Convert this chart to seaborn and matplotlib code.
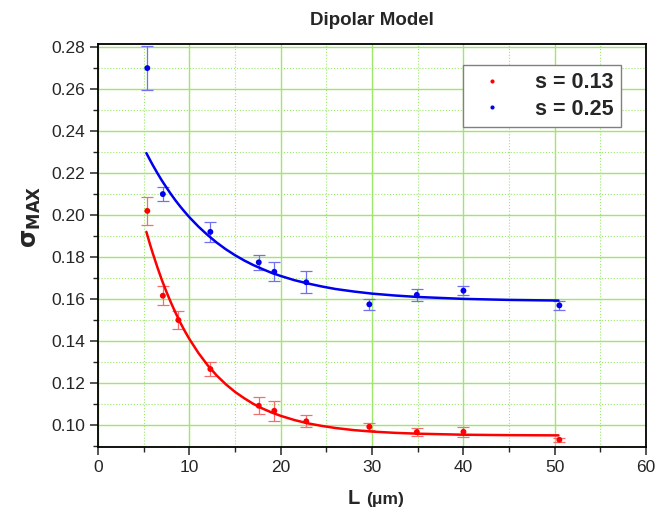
import numpy as np
import pandas as pd
import seaborn as sns
import matplotlib.pyplot as plt
from matplotlib.ticker import MultipleLocator

L_blue = [5.4, 7.1, 12.3, 17.6, 19.3, 22.8, 29.7, 34.9, 40.0, 50.5]
sig_blue = [0.270, 0.210, 0.192, 0.1775, 0.173, 0.168, 0.1575, 0.162, 0.164, 0.157]
err_blue = [0.0105, 0.0033, 0.0046, 0.0035, 0.0045, 0.0052, 0.0025, 0.003, 0.0022, 0.002]

L_red = [5.4, 7.1, 8.8, 12.3, 17.6, 19.3, 22.8, 29.7, 34.9, 40.0, 50.5]
sig_red = [0.202, 0.1616, 0.150, 0.1267, 0.1092, 0.1068, 0.1018, 0.0992, 0.0967, 0.0968, 0.093]
err_red = [0.0067, 0.0046, 0.0044, 0.0032, 0.004, 0.0047, 0.0029, 0.0017, 0.0017, 0.0025, 0.001]

# model curves
L_fit = [5.3, 5.7, 6, 6.5, 7, 7.5, 8, 8.5, 9, 9.5, 10, 11, 12, 13, 14, 15, 16, 17, 18,
         19, 20, 21.5, 23, 24.5, 26, 28, 30, 32.5, 35, 40, 45, 50.4]
fit_red = [0.192, 0.186, 0.1818, 0.1752, 0.169, 0.1634, 0.1582, 0.1534, 0.1489, 0.1448,
           0.141, 0.1343, 0.1285, 0.1236, 0.1194, 0.1158, 0.1128, 0.1101, 0.1079, 0.106,
           0.1044, 0.1024, 0.1008, 0.0996, 0.0986, 0.0976, 0.0969, 0.0963, 0.0959, 0.0954,
           0.0952, 0.0951]
fit_blue = [0.2295, 0.2262, 0.2238, 0.22, 0.2164, 0.2131, 0.2099, 0.2069, 0.2041, 0.2015,
            0.199, 0.1945, 0.1905, 0.1869, 0.1837, 0.1809, 0.1784, 0.1762, 0.1743, 0.1725,
            0.171, 0.169, 0.1674, 0.166, 0.1648, 0.1636, 0.1626, 0.1617, 0.161, 0.1601,
            0.1596, 0.1593]

sns.set_style('white')
plt.rcParams['font.family'] = ['Liberation Sans', 'DejaVu Sans']

fig = plt.figure(figsize=(6.71, 5.11), dpi=100)
ax = fig.add_axes([0.146, 0.125, 0.817, 0.789])

grid_c = '#9be86a'
ax.xaxis.set_major_locator(MultipleLocator(10))
ax.xaxis.set_minor_locator(MultipleLocator(5))
ax.yaxis.set_major_locator(MultipleLocator(0.02))
ax.yaxis.set_minor_locator(MultipleLocator(0.01))
ax.grid(True, which='major', color=grid_c, lw=1.0, ls='-')
ax.grid(True, which='minor', color=grid_c, lw=0.8, ls=':')
ax.set_axisbelow(True)

# error bars
ax.errorbar(L_red, sig_red, yerr=err_red, fmt='none', ecolor='#f07070', elinewidth=0.9,
            capsize=4, capthick=0.9)
ax.errorbar(L_blue, sig_blue, yerr=err_blue, fmt='none', ecolor='#7070f0', elinewidth=0.9,
            capsize=4, capthick=0.9)

# fitted curves
sns.lineplot(x=L_fit, y=fit_red, color='#ff0000', lw=1.8, ax=ax, sort=False)
sns.lineplot(x=L_fit, y=fit_blue, color='#0000ee', lw=1.8, ax=ax, sort=False)

# data points
pts = pd.concat([
    pd.DataFrame({'L': L_red, 'sig': sig_red, 's': 's = 0.13'}),
    pd.DataFrame({'L': L_blue, 'sig': sig_blue, 's': 's = 0.25'}),
])
sns.scatterplot(data=pts, x='L', y='sig', hue='s', palette=['#ff0000', '#0000ee'],
                s=18, edgecolor='none', ax=ax, zorder=5)

ax.set_xlim(0, 60)
ax.set_ylim(0.0895, 0.2815)
ax.set_yticks(np.arange(0.10, 0.281, 0.02))
ax.set_yticklabels([f'{v:.2f}' for v in np.arange(0.10, 0.281, 0.02)])

for sp in ax.spines.values():
    sp.set_color('black')
    sp.set_linewidth(1.3)

ax.tick_params(which='major', direction='out', length=6, width=1.1, labelsize=12.5,
               bottom=True, left=True, top=False, right=False)
ax.tick_params(which='minor', direction='out', length=3.5, width=1.0,
               bottom=True, left=True, top=False, right=False)

fig.text(0.555, 0.952, 'Dipolar Model', fontsize=13.5, fontweight='bold',
         ha='center', va='baseline')
ax.set_xlabel('')
fig.text(0.537, 0.014, 'L', fontsize=14.5, fontweight='bold', ha='right', va='baseline')
fig.text(0.545, 0.014, '(μm)', fontsize=12.5, fontweight='bold', ha='left', va='baseline')
ax.set_ylabel(r'$\mathbf{\sigma_{MAX}}$', fontsize=17)
ax.yaxis.set_label_coords(-0.1, 0.57)

leg = ax.legend(loc='upper right', bbox_to_anchor=(0.954, 0.948), frameon=True,
                fancybox=False, framealpha=1, edgecolor='#808080', markerscale=0.7,
                prop={'weight': 'bold', 'size': 15.5}, handletextpad=1.0,
                borderpad=0.35, labelspacing=0.25, borderaxespad=0)
leg.get_frame().set_linewidth(1.0)

fig.savefig('out.png', dpi=100)
